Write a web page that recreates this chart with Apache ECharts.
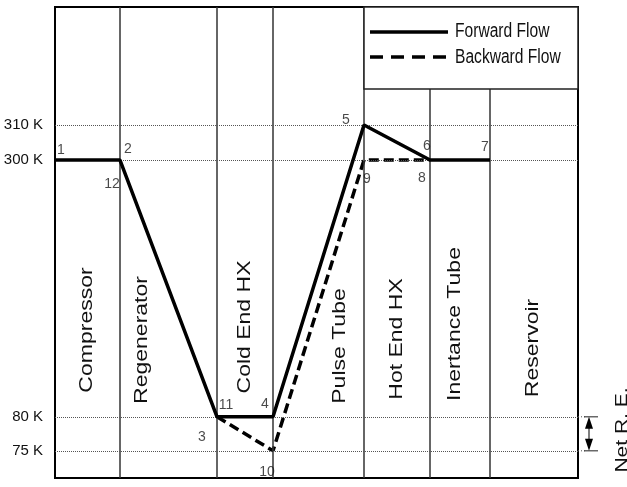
<!DOCTYPE html>
<html>
<head>
<meta charset="utf-8">
<script src="https://cdn.jsdelivr.net/npm/echarts@6/dist/echarts.min.js"></script>
<style>
html, body { margin: 0; padding: 0; background: #fff; }
#chart { width: 627px; height: 487px; }
</style>
</head>
<body>
<div id="chart"></div>
<script>
var components = ["Compressor", "Regenerator", "Cold End HX", "Pulse Tube", "Hot End HX", "Inertance Tube", "Reservoir"];
// relative length of each component along the flow path
var componentLengths = [65, 97, 56, 91, 66, 60, 88];
var tempLevels = [310, 300, 80, 75];
var forwardStations = [0, 1, 2, 3, 4, 5, 6];
var forwardTemps = [300, 300, 80, 80, 310, 300, 300];
var backwardStations = [2, 3, 4, 5];
var backwardTemps = [80, 75, 300, 300];
var pointNames = ["1", "2", "12", "11", "3", "4", "10", "5", "9", "6", "8", "7"];
var pointStations = [0, 1, 1, 2, 2, 3, 3, 4, 4, 5, 5, 6];
var pointTemps = [300, 300, 300, 80, 80, 80, 75, 310, 300, 300, 300, 300];

var font = "'Liberation Sans', Arial, sans-serif";
var narrow = "'Liberation Sans Narrow', 'Liberation Sans', Arial, sans-serif";

// station positions = cumulative component lengths
var bounds = [0];
componentLengths.forEach(function(l) {
    bounds.push(bounds[bounds.length - 1] + l);
});

// label offsets next to each numbered state point
var pointOffsets = {
    "1": [6, -10], "2": [8, -11], "12": [-8, 24], "11": [9, -12],
    "3": [-15, 20], "4": [-8, -13], "10": [-6, 21], "5": [-18, -5],
    "9": [3, 19], "6": [-3, -14], "8": [-8, 18], "7": [-5, -13]
};

var myChart = echarts.init(document.getElementById("chart"));
var option = {
    animation: false,
    grid: {
        left: 55, right: 49, top: 7, bottom: 9,
        show: true, borderColor: "#000", borderWidth: 2,
        outerBoundsMode: "none"
    },
    xAxis: {
        type: "value",
        min: 0,
        max: bounds[bounds.length - 1],
        axisLine: { show: false },
        axisTick: { show: false },
        axisLabel: { show: false },
        splitLine: { show: false }
    },
    yAxis: {
        type: "value",
        min: 71,
        max: 327.35,
        breaks: [
            { start: 82, end: 298, gap: 33.76 },
            { start: 302, end: 308, gap: 1.15 }
        ],
        breakArea: { show: false, itemStyle: { opacity: 0 } },
        axisLine: { show: false },
        axisTick: { show: false },
        axisLabel: { show: false },
        splitLine: { show: false }
    },
    series: [{
        // component boundaries
        type: "line",
        data: [],
        z: 1,
        silent: true,
        markLine: {
            silent: true,
            symbol: ["none", "none"],
            label: { show: false },
            lineStyle: { color: "#333", width: 1.5, type: "solid" },
            data: bounds.slice(1, -1).map(function(b) { return { xAxis: b }; })
        }
    }, {
        // temperature levels
        type: "line",
        data: [],
        z: 1,
        silent: true,
        markLine: {
            silent: true,
            symbol: ["none", "none"],
            lineStyle: { color: "#555", width: 1, type: "dotted" },
            label: {
                show: true,
                position: "start",
                distance: 12,
                formatter: function(p) { return p.value + " K"; },
                color: "#111",
                fontSize: 15,
                fontFamily: narrow
            },
            data: tempLevels.map(function(t) { return { yAxis: t }; })
        }
    }, {
        name: "Backward Flow",
        type: "line",
        symbol: "none",
        z: 4,
        lineStyle: { color: "#000", width: 3.5, type: [10, 5] },
        data: backwardStations.map(function(s, i) { return [bounds[s], backwardTemps[i]]; })
    }, {
        name: "Forward Flow",
        type: "line",
        symbol: "none",
        z: 5,
        lineStyle: { color: "#000", width: 3.5 },
        data: forwardStations.map(function(s, i) { return [bounds[s], forwardTemps[i]]; })
    }, {
        type: "scatter",
        symbolSize: 0.1,
        z: 6,
        silent: true,
        itemStyle: { color: "rgba(0,0,0,0)" },
        label: {
            show: true,
            position: "inside",
            formatter: "{b}",
            color: "#1a1a1a",
            fontSize: 14,
            fontFamily: narrow
        },
        data: pointNames.map(function(n, i) {
            return {
                name: n,
                value: [bounds[pointStations[i]], pointTemps[i]],
                label: { offset: pointOffsets[n] }
            };
        })
    }]
};
myChart.setOption(option);

// annotations: legend box, component names, net refrigeration effect
var y80 = myChart.convertToPixel({ yAxisIndex: 0 }, 80);
var y75 = myChart.convertToPixel({ yAxisIndex: 0 }, 75);
var xRight = myChart.convertToPixel({ xAxisIndex: 0 }, bounds[bounds.length - 1]);
var xLeg = myChart.convertToPixel({ xAxisIndex: 0 }, bounds[4]);

var labelPos = [[87, 330], [142, 340], [245, 327], [340, 346], [397, 339], [455, 324], [533, 348]];
var graphics = [];

graphics.push({
    type: "rect", z: 100,
    shape: { x: xLeg, y: 7, width: xRight - xLeg, height: 82 },
    style: { fill: "#fff", stroke: "#222", lineWidth: 1.5 }
});
graphics.push({
    type: "line", z: 101,
    shape: { x1: xLeg + 6, y1: 32, x2: xLeg + 84, y2: 32 },
    style: { stroke: "#000", lineWidth: 3.5 }
});
graphics.push({
    type: "line", z: 101,
    shape: { x1: xLeg + 6, y1: 57, x2: xLeg + 84, y2: 57 },
    style: { stroke: "#000", lineWidth: 3.5, lineDash: [13, 8] }
});
["Forward Flow", "Backward Flow"].forEach(function(t, i) {
    graphics.push({
        type: "text", z: 101,
        x: xLeg + 91, y: 31 + i * 26,
        scaleX: 0.78,
        style: {
            text: t, fontSize: 20, fontFamily: font, fill: "#111",
            align: "left", verticalAlign: "middle",
            textAlign: "left", textVerticalAlign: "middle"
        }
    });
});

components.forEach(function(c, i) {
    graphics.push({
        type: "text", z: 50,
        x: labelPos[i][0], y: labelPos[i][1],
        rotation: Math.PI / 2,
        scaleY: 0.82,
        style: {
            text: c, fontSize: 23, fontFamily: font, fill: "#111",
            align: "center", verticalAlign: "middle",
            textAlign: "center", textVerticalAlign: "middle"
        }
    });
});

[y80, y75].forEach(function(y) {
    graphics.push({
        type: "line", z: 50,
        shape: { x1: xRight, y1: y, x2: xRight + 7, y2: y },
        style: { stroke: "#555", lineWidth: 1, lineDash: [1, 2] }
    });
    graphics.push({
        type: "line", z: 50,
        shape: { x1: xRight + 6, y1: y, x2: xRight + 20, y2: y },
        style: { stroke: "#444", lineWidth: 1.2 }
    });
});
var ax = xRight + 11;
graphics.push({
    type: "line", z: 50,
    shape: { x1: ax, y1: y80 + 8, x2: ax, y2: y75 - 8 },
    style: { stroke: "#555", lineWidth: 1.5 }
});
graphics.push({
    type: "polygon", z: 50,
    shape: { points: [[ax, y80], [ax - 4, y80 + 12], [ax + 4, y80 + 12]] },
    style: { fill: "#000" }
});
graphics.push({
    type: "polygon", z: 50,
    shape: { points: [[ax, y75], [ax - 4, y75 - 12], [ax + 4, y75 - 12]] },
    style: { fill: "#000" }
});
graphics.push({
    type: "text", z: 50,
    x: 622, y: 430,
    rotation: Math.PI / 2,
    scaleY: 0.82,
    style: {
        text: "Net R. E.", fontSize: 21, fontFamily: font, fill: "#111",
        align: "center", verticalAlign: "middle",
        textAlign: "center", textVerticalAlign: "middle"
    }
});

myChart.setOption({ graphic: graphics });
</script>
</body>
</html>
